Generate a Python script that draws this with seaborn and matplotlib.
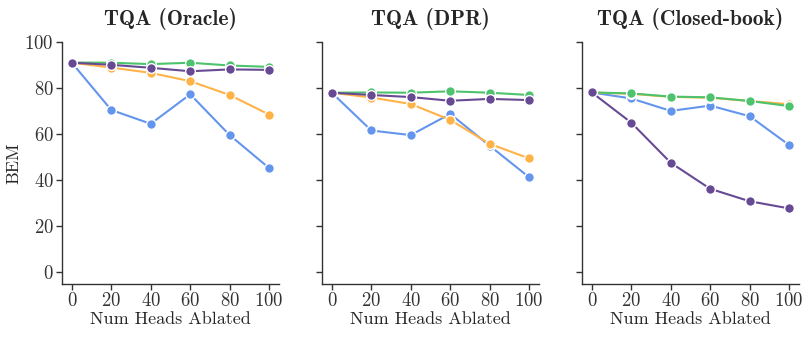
import numpy as np
import pandas as pd
import matplotlib
matplotlib.use("Agg")
import matplotlib.pyplot as plt
import seaborn as sns

heads = [0, 20, 40, 60, 80, 100]
panels = ["TQA (Oracle)", "TQA (DPR)", "TQA (Closed-book)"]
series = ["blue", "orange", "green", "purple"]
colors = ["#6495ED", "#FFB347", "#4CC36C", "#684A94"]

oracle_blue = [91.0, 70.5, 64.5, 77.3, 59.6, 45.3]
oracle_orange = [91.0, 88.9, 86.6, 83.0, 77.0, 68.5]
oracle_green = [91.1, 91.0, 90.4, 91.0, 89.8, 89.2]
oracle_purple = [91.0, 90.1, 88.8, 87.3, 88.1, 87.9]

dpr_blue = [78.0, 61.6, 59.6, 68.8, 55.0, 41.3]
dpr_orange = [78.0, 75.9, 73.1, 66.2, 55.8, 49.5]
dpr_green = [78.0, 78.1, 78.0, 78.6, 78.0, 77.0]
dpr_purple = [78.0, 77.0, 76.1, 74.5, 75.3, 74.8]

cb_blue = [78.1, 75.5, 70.1, 72.4, 67.8, 55.3]
cb_orange = [78.1, 77.5, 76.2, 75.8, 74.4, 73.0]
cb_green = [78.1, 77.7, 76.3, 76.0, 74.4, 72.2]
cb_purple = [78.1, 65.0, 47.6, 36.3, 30.9, 27.8]

data = {
    "TQA (Oracle)": [oracle_blue, oracle_orange, oracle_green, oracle_purple],
    "TQA (DPR)": [dpr_blue, dpr_orange, dpr_green, dpr_purple],
    "TQA (Closed-book)": [cb_blue, cb_orange, cb_green, cb_purple],
}

rows = []
for p in panels:
    for s, vals in zip(series, data[p]):
        for h, v in zip(heads, vals):
            rows.append({"panel": p, "series": s, "heads": h, "BEM": v})
df = pd.DataFrame(rows)

sns.set_style("ticks")
plt.rcParams["font.family"] = ["cmr10", "DejaVu Serif"]
plt.rcParams["mathtext.fontset"] = "cm"
plt.rcParams["axes.formatter.use_mathtext"] = True
plt.rcParams["axes.edgecolor"] = "#333333"
plt.rcParams["xtick.color"] = "#333333"
plt.rcParams["ytick.color"] = "#333333"

fig, axes = plt.subplots(1, 3, figsize=(8.1, 3.4), dpi=100, sharey=True)
fig.subplots_adjust(left=0.0765, right=0.9864, top=0.8765, bottom=0.1647, wspace=0.198)

for ax, p in zip(axes, panels):
    sub = df[df["panel"] == p]
    sns.lineplot(data=sub, x="heads", y="BEM", hue="series", hue_order=series,
                 palette=colors, marker="o", markersize=7, markeredgecolor="white",
                 markeredgewidth=1.0, linewidth=1.5, ax=ax, legend=False)
    ax.set_title(p, fontfamily="cmb10", fontsize=15.5, pad=12)
    ax.set_xlim(-5, 105)
    ax.set_ylim(-5, 100)
    ax.set_xticks(heads)
    ax.set_yticks([0, 20, 40, 60, 80, 100])
    ax.set_xlabel("Num Heads Ablated", fontsize=13, labelpad=1)
    ax.set_ylabel("")
    ax.tick_params(labelsize=13.5, length=4, width=1, pad=2)
    for sp in ["left", "bottom"]:
        ax.spines[sp].set_linewidth(1.0)
    sns.despine(ax=ax)

axes[0].set_ylabel("BEM", fontsize=13, labelpad=2)

fig.savefig("out.png", dpi=100)
